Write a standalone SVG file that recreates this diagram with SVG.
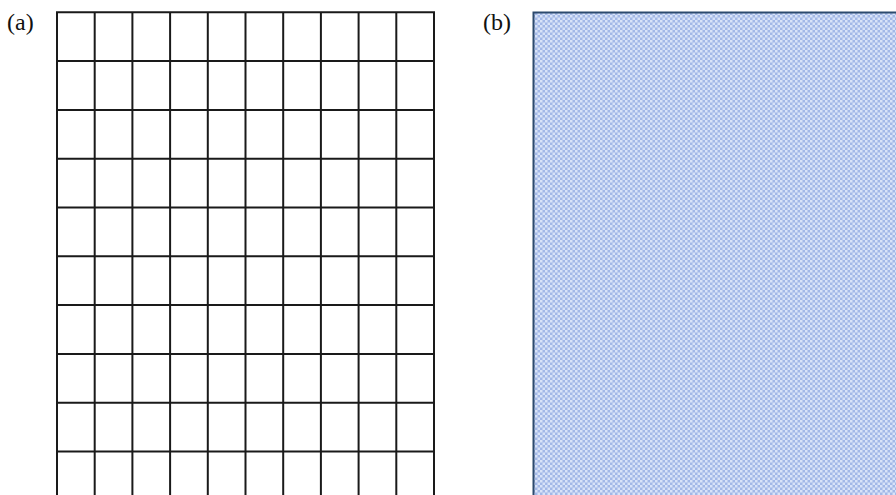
<svg xmlns="http://www.w3.org/2000/svg" width="896" height="495" viewBox="0 0 896 495">
<style>
.lbl{font-family:"Liberation Serif","Times New Roman",serif;font-size:24px;fill:#111}
.grid line{stroke:#1a1a1a;stroke-width:2}
</style>
<defs>
<pattern id="dots" width="5" height="5" patternUnits="userSpaceOnUse">
<rect width="5" height="5" fill="#a2b8e7"/>
<rect x="0" y="0" width="2.5" height="2.5" fill="#d8e3f8"/>
<rect x="2.5" y="2.5" width="2.5" height="2.5" fill="#d8e3f8"/>
</pattern>
</defs>
<rect width="896" height="495" fill="#ffffff"/>
<g id="label-a"><text class="lbl" x="7" y="30">(a)</text></g>
<g id="label-b"><text class="lbl" x="483" y="30">(b)</text></g>
<g id="grid-a" class="grid">
<line x1="57" y1="12.3" x2="57" y2="495"/>
<line x1="94.7" y1="12.3" x2="94.7" y2="495"/>
<line x1="132.4" y1="12.3" x2="132.4" y2="495"/>
<line x1="170.1" y1="12.3" x2="170.1" y2="495"/>
<line x1="207.8" y1="12.3" x2="207.8" y2="495"/>
<line x1="245.5" y1="12.3" x2="245.5" y2="495"/>
<line x1="283.2" y1="12.3" x2="283.2" y2="495"/>
<line x1="320.9" y1="12.3" x2="320.9" y2="495"/>
<line x1="358.6" y1="12.3" x2="358.6" y2="495"/>
<line x1="396.3" y1="12.3" x2="396.3" y2="495"/>
<line x1="434" y1="12.3" x2="434" y2="495"/>
<line x1="56" y1="12.3" x2="435" y2="12.3"/>
<line x1="56" y1="61.1" x2="435" y2="61.1"/>
<line x1="56" y1="109.9" x2="435" y2="109.9"/>
<line x1="56" y1="158.7" x2="435" y2="158.7"/>
<line x1="56" y1="207.5" x2="435" y2="207.5"/>
<line x1="56" y1="256.3" x2="435" y2="256.3"/>
<line x1="56" y1="305.1" x2="435" y2="305.1"/>
<line x1="56" y1="353.9" x2="435" y2="353.9"/>
<line x1="56" y1="402.7" x2="435" y2="402.7"/>
<line x1="56" y1="451.5" x2="435" y2="451.5"/>
</g>
<g id="panel-b">
<rect x="533.5" y="12.5" width="370" height="490" fill="url(#dots)" stroke="#2c4a6e" stroke-width="2"/>
</g>
</svg>
